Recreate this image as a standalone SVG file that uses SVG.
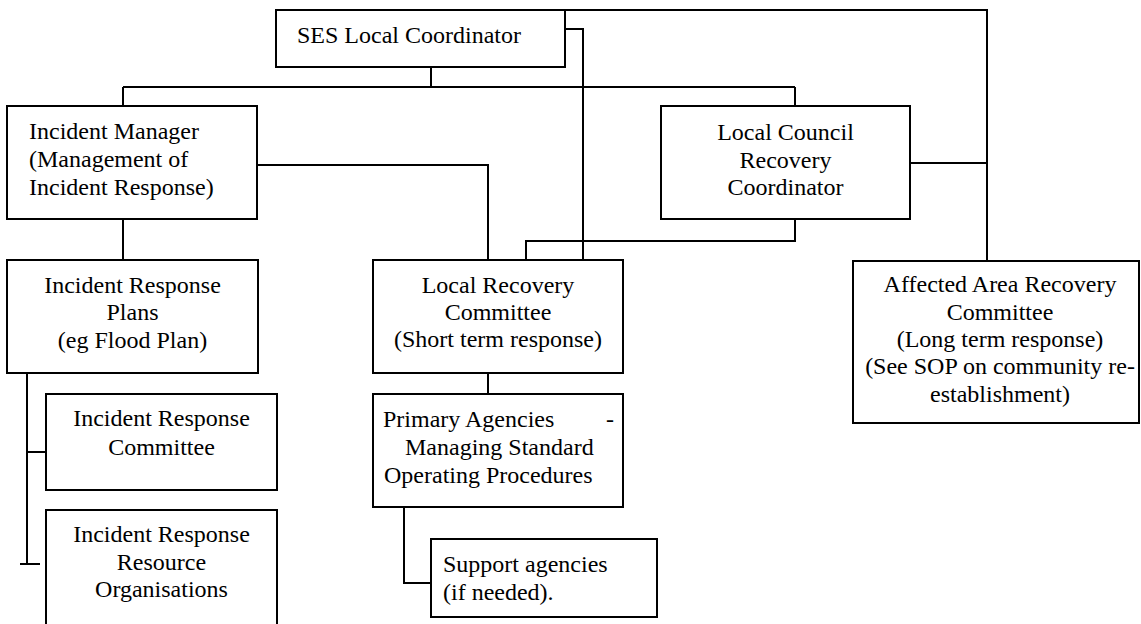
<svg xmlns="http://www.w3.org/2000/svg" width="1141" height="624" viewBox="0 0 1141 624">
<style>
.box{fill:#fff;stroke:#000;stroke-width:2}
.ln{fill:none;stroke:#000;stroke-width:2}
.c{text-anchor:middle}
</style>
<rect width="1141" height="624" fill="#fff"/>
<g id="connectors">
<path class="ln" d="M431 67V87M123 87H795M123 87V106M795 87V106"/>
<path class="ln" d="M565 10H987V261"/>
<path class="ln" d="M565 29H583V260"/>
<path class="ln" d="M257 165H488V260"/>
<path class="ln" d="M910 163H987"/>
<path class="ln" d="M795 219V241H526V260"/>
<path class="ln" d="M123 219V260"/>
<path class="ln" d="M27 373V564M20 564H40M27 452H46"/>
<path class="ln" d="M488 373V394"/>
<path class="ln" d="M404 507V583H431"/>
</g>
<g font-family="Liberation Serif, Tinos, Times New Roman, Times, serif" font-size="24" fill="#000">
<g id="ses">
<rect class="box" x="276" y="10" width="289" height="57"/>
<text x="297" y="43">SES Local Coordinator</text>
</g>
<g id="incident-manager">
<rect class="box" x="7" y="106" width="250" height="113"/>
<text x="29" y="139">Incident Manager</text>
<text x="29" y="167">(Management of</text>
<text x="29" y="195">Incident Response)</text>
</g>
<g id="local-council">
<rect class="box" x="661" y="106" width="249" height="113"/>
<text class="c" x="785.5" y="140">Local Council</text>
<text class="c" x="785.5" y="168">Recovery</text>
<text class="c" x="785.5" y="195">Coordinator</text>
</g>
<g id="incident-response-plans">
<rect class="box" x="7" y="260" width="251" height="113"/>
<text class="c" x="132.5" y="293">Incident Response</text>
<text class="c" x="132.5" y="320">Plans</text>
<text class="c" x="132.5" y="348">(eg Flood Plan)</text>
</g>
<g id="local-recovery-committee">
<rect class="box" x="373" y="260" width="250" height="113"/>
<text class="c" x="498" y="293">Local Recovery</text>
<text class="c" x="498" y="320">Committee</text>
<text class="c" x="498" y="347">(Short term response)</text>
</g>
<g id="affected-area">
<rect class="box" x="853" y="261" width="286" height="162"/>
<text class="c" x="1000" y="292">Affected Area Recovery</text>
<text class="c" x="1000" y="320">Committee</text>
<text class="c" x="1000" y="347">(Long term response)</text>
<text class="c" x="1000" y="374">(See SOP on community re-</text>
<text class="c" x="1000" y="402">establishment)</text>
</g>
<g id="incident-response-committee">
<rect class="box" x="46" y="394" width="231" height="96"/>
<text class="c" x="161.5" y="426">Incident Response</text>
<text class="c" x="161.5" y="455">Committee</text>
</g>
<g id="incident-response-resource">
<rect class="box" x="46" y="510" width="231" height="120"/>
<text class="c" x="161.5" y="542">Incident Response</text>
<text class="c" x="161.5" y="570">Resource</text>
<text class="c" x="161.5" y="597">Organisations</text>
</g>
<g id="primary-agencies">
<rect class="box" x="373" y="394" width="250" height="113"/>
<text x="383" y="427">Primary Agencies</text>
<text x="606" y="427">-</text>
<text x="405" y="455">Managing Standard</text>
<text x="384" y="483">Operating Procedures</text>
</g>
<g id="support-agencies">
<rect class="box" x="431" y="539" width="226" height="78"/>
<text x="443" y="572">Support agencies</text>
<text x="443" y="600">(if needed).</text>
</g>
</g>
</svg>
